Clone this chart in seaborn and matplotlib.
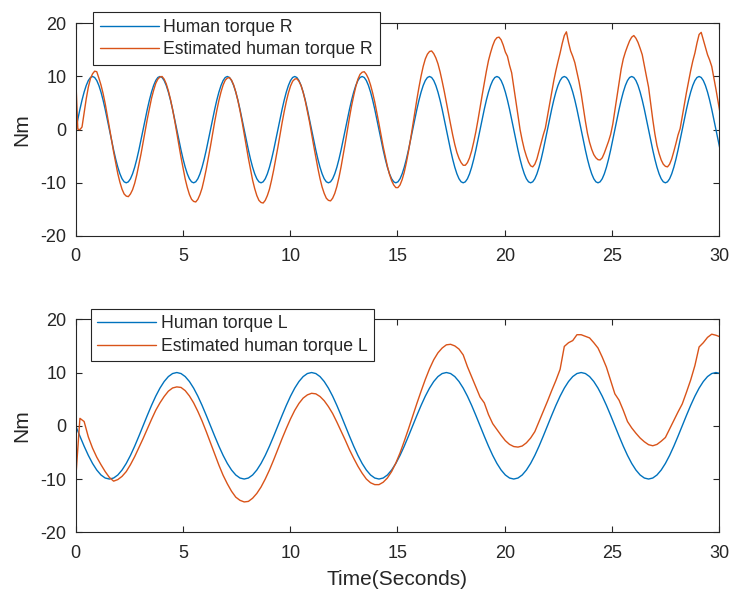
import numpy as np
import matplotlib
matplotlib.use("Agg")
import matplotlib.pyplot as plt
import seaborn as sns

# curves: R plot every pi/32 s, L plot every pi/16 s
step_r = np.pi / 32
step_l = np.pi / 16

human_r = [
    0, 1.95, 3.83, 5.56, 7.07, 8.31, 9.24, 9.81, 10, 9.81, 9.24, 8.31, 7.07, 5.56, 3.83, 1.95,
    0, -1.95, -3.83, -5.56, -7.07, -8.31, -9.24, -9.81, -10, -9.81, -9.24, -8.31, -7.07, -5.56, -3.83, -1.95,
    0, 1.95, 3.83, 5.56, 7.07, 8.31, 9.24, 9.81, 10, 9.81, 9.24, 8.31, 7.07, 5.56, 3.83, 1.95,
    0, -1.95, -3.83, -5.56, -7.07, -8.31, -9.24, -9.81, -10, -9.81, -9.24, -8.31, -7.07, -5.56, -3.83, -1.95,
    0, 1.95, 3.83, 5.56, 7.07, 8.31, 9.24, 9.81, 10, 9.81, 9.24, 8.31, 7.07, 5.56, 3.83, 1.95,
    0, -1.95, -3.83, -5.56, -7.07, -8.31, -9.24, -9.81, -10, -9.81, -9.24, -8.31, -7.07, -5.56, -3.83, -1.95,
    0, 1.95, 3.83, 5.56, 7.07, 8.31, 9.24, 9.81, 10, 9.81, 9.24, 8.31, 7.07, 5.56, 3.83, 1.95,
    0, -1.95, -3.83, -5.56, -7.07, -8.31, -9.24, -9.81, -10, -9.81, -9.24, -8.31, -7.07, -5.56, -3.83, -1.95,
    0, 1.95, 3.83, 5.56, 7.07, 8.31, 9.24, 9.81, 10, 9.81, 9.24, 8.31, 7.07, 5.56, 3.83, 1.95,
    0, -1.95, -3.83, -5.56, -7.07, -8.31, -9.24, -9.81, -10, -9.81, -9.24, -8.31, -7.07, -5.56, -3.83, -1.95,
    0, 1.95, 3.83, 5.56, 7.07, 8.31, 9.24, 9.81, 10, 9.81, 9.24, 8.31, 7.07, 5.56, 3.83, 1.95,
    0, -1.95, -3.83, -5.56, -7.07, -8.31, -9.24, -9.81, -10, -9.81, -9.24, -8.31, -7.07, -5.56, -3.83, -1.95,
    0, 1.95, 3.83, 5.56, 7.07, 8.31, 9.24, 9.81, 10, 9.81, 9.24, 8.31, 7.07, 5.56, 3.83, 1.95,
    0, -1.95, -3.83, -5.56, -7.07, -8.31, -9.24, -9.81, -10, -9.81, -9.24, -8.31, -7.07, -5.56, -3.83, -1.95,
    0, 1.95, 3.83, 5.56, 7.07, 8.31, 9.24, 9.81, 10, 9.81, 9.24, 8.31, 7.07, 5.56, 3.83, 1.95,
    0, -1.95, -3.83, -5.56, -7.07, -8.31, -9.24, -9.81, -10, -9.81, -9.24, -8.31, -7.07, -5.56, -3.83, -1.95,
    0, 1.95, 3.83, 5.56, 7.07, 8.31, 9.24, 9.81, 10, 9.81, 9.24, 8.31, 7.07, 5.56, 3.83, 1.95,
    0, -1.95, -3.83, -5.56, -7.07, -8.31, -9.24, -9.81, -10, -9.81, -9.24, -8.31, -7.07, -5.56, -3.83, -1.95,
    0, 1.95, 3.83, 5.56, 7.07, 8.31, 9.24, 9.81, 10, 9.81, 9.24, 8.31, 7.07, 5.56, 3.83, 1.95,
    0, -1.95, -3.83,
]
estimated_r = [
    10.0, 0.1, 0.0, 0.5, 3.2, 5.8, 8.0, 9.6, 10.5, 11.0, 10.9, 9.7, 8.4, 6.8, 4.9, 2.7,
    0.4, -1.9, -4.2, -6.3, -8.3, -9.9, -11.2, -12.1, -12.5, -12.6, -12.1, -11.3, -10.1, -8.5, -6.6, -4.6,
    -2.4, -0.2, 2.0, 4.0, 5.9, 7.4, 8.7, 9.5, 9.9, 10.0, 9.5, 8.6, 7.3, 5.7, 3.8, 1.7,
    -0.6, -2.9, -5.2, -7.3, -9.3, -10.9, -12.2, -13.1, -13.5, -13.6, -13.1, -12.2, -11.0, -9.3, -7.4, -5.3,
    -3.1, -0.8, 1.5, 3.6, 5.5, 7.1, 8.4, 9.3, 9.7, 9.8, 9.3, 8.4, 7.1, 5.5, 3.6, 1.5,
    -0.8, -3.1, -5.4, -7.5, -9.5, -11.1, -12.4, -13.3, -13.7, -13.8, -13.3, -12.4, -11.2, -9.5, -7.6, -5.5,
    -3.3, -1.0, 1.3, 3.4, 5.3, 6.9, 8.2, 9.1, 9.5, 9.6, 9.1, 8.3, 7.0, 5.4, 3.5, 1.5,
    -0.8, -3.0, -5.2, -7.3, -9.2, -10.8, -12.0, -12.9, -13.3, -13.4, -12.9, -12.0, -10.7, -9.0, -7.0, -4.8,
    -2.5, -0.1, 2.3, 4.5, 6.4, 8.1, 9.5, 10.4, 10.8, 10.9, 10.4, 9.6, 8.4, 6.9, 5.2, 3.2,
    1.1, -1.1, -3.2, -5.1, -6.9, -8.4, -9.6, -10.4, -10.9, -10.9, -10.4, -9.4, -8.0, -6.2, -4.1, -1.8,
    0.7, 3.2, 5.7, 8.0, 10.1, 11.9, 13.3, 14.2, 14.7, 14.8, 14.3, 13.5, 12.4, 10.9, 9.1, 7.2,
    5.1, 3.0, 1.0, -1.0, -2.8, -4.3, -5.4, -6.2, -6.7, -6.7, -6.2, -5.3, -4.0, -2.3, -0.4, 1.8,
    4.2, 6.5, 8.8, 11.0, 13.0, 14.5, 15.8, 16.8, 17.3, 17.4, 16.9, 15.9, 14.6, 13.8, 12.1, 10.7,
    8.0, 5.3, 2.5, 0.0, -2.0, -3.7, -5.0, -6.1, -6.8, -7.0, -6.5, -5.5, -4.0, -2.5, -1.0, 0.3,
    2.5, 4.8, 7.0, 9.2, 11.1, 12.8, 14.4, 16.2, 17.7, 18.4, 16.4, 14.8, 13.8, 12.6, 10.8, 9.0,
    6.8, 4.2, 1.6, -0.7, -2.4, -3.7, -4.7, -5.3, -5.65, -5.7, -5.3, -4.4, -3.3, -2.2, -0.9, 1.0,
    3.6, 6.3, 8.9, 11.4, 13.3, 14.6, 15.7, 16.7, 17.4, 17.7, 17.2, 16.4, 15.3, 14.1, 12.0, 10.0,
    8.0, 5.0, 1.9, -0.8, -3.0, -4.5, -5.7, -6.5, -6.9, -7.0, -6.5, -5.5, -4.1, -2.6, -1.0, 0.2,
    2.5, 4.7, 7.0, 9.1, 11.1, 12.9, 14.4, 16.3, 17.9, 18.3, 16.9, 15.5, 14.1, 13.1, 11.9, 9.8,
    7.6, 5.3, 3.0,
]

human_l = [
    0, -1.95, -3.83, -5.56, -7.07, -8.31, -9.24, -9.81, -10, -9.81, -9.24, -8.31, -7.07, -5.56, -3.83, -1.95,
    0, 1.95, 3.83, 5.56, 7.07, 8.31, 9.24, 9.81, 10, 9.81, 9.24, 8.31, 7.07, 5.56, 3.83, 1.95,
    0, -1.95, -3.83, -5.56, -7.07, -8.31, -9.24, -9.81, -10, -9.81, -9.24, -8.31, -7.07, -5.56, -3.83, -1.95,
    0, 1.95, 3.83, 5.56, 7.07, 8.31, 9.24, 9.81, 10, 9.81, 9.24, 8.31, 7.07, 5.56, 3.83, 1.95,
    0, -1.95, -3.83, -5.56, -7.07, -8.31, -9.24, -9.81, -10, -9.81, -9.24, -8.31, -7.07, -5.56, -3.83, -1.95,
    0, 1.95, 3.83, 5.56, 7.07, 8.31, 9.24, 9.81, 10, 9.81, 9.24, 8.31, 7.07, 5.56, 3.83, 1.95,
    0, -1.95, -3.83, -5.56, -7.07, -8.31, -9.24, -9.81, -10, -9.81, -9.24, -8.31, -7.07, -5.56, -3.83, -1.95,
    0, 1.95, 3.83, 5.56, 7.07, 8.31, 9.24, 9.81, 10, 9.81, 9.24, 8.31, 7.07, 5.56, 3.83, 1.95,
    0, -1.95, -3.83, -5.56, -7.07, -8.31, -9.24, -9.81, -10, -9.81, -9.24, -8.31, -7.07, -5.56, -3.83, -1.95,
    0, 1.95, 3.83, 5.56, 7.07, 8.31, 9.24, 9.81, 10, 9.81,
]
estimated_l = [
    -10.0, 1.4, 0.8, -2.1, -4.2, -5.9, -7.3, -8.6, -9.7, -10.4, -10.1, -9.5, -8.6, -7.3, -5.8, -4.1,
    -2.4, -0.6, 1.2, 2.9, 4.3, 5.5, 6.5, 7.1, 7.3, 7.2, 6.6, 5.6, 4.3, 2.7, 0.9, -1.1,
    -3.2, -5.3, -7.4, -9.3, -10.9, -12.3, -13.4, -14.0, -14.3, -14.2, -13.6, -12.7, -11.5, -10.0, -8.3, -6.4,
    -4.4, -2.4, -0.5, 1.3, 2.9, 4.2, 5.2, 5.8, 6.1, 6.0, 5.5, 4.7, 3.6, 2.3, 0.7, -1.0,
    -2.7, -4.5, -6.1, -7.6, -8.9, -10.0, -10.7, -11.05, -11.05, -10.6, -9.8, -8.6, -7.0, -5.1, -2.9, -0.6,
    1.8, 4.2, 6.5, 8.7, 10.7, 12.4, 13.7, 14.6, 15.2, 15.3, 15.0, 14.4, 13.3, 11.1, 9.2, 7.3,
    5.4, 4.3, 2.1, 0.4, -0.7, -1.8, -2.8, -3.5, -3.9, -4.0, -3.8, -3.2, -2.3, -1.1, 0.8, 2.7,
    4.6, 6.6, 8.5, 10.6, 14.9, 15.6, 16.0, 17.1, 17.1, 16.8, 16.5, 15.6, 14.6, 12.9, 11.0, 8.5,
    6.0, 4.8, 2.9, 0.8, -0.4, -1.4, -2.3, -3.0, -3.55, -3.75, -3.5, -2.9, -2.2, -0.6, 1.0, 2.6,
    4.1, 6.3, 8.6, 11.3, 14.8, 15.6, 16.6, 17.2, 17.0, 16.7,
]

labels_r = ["Human torque R", "Estimated human torque R"]
labels_l = ["Human torque L", "Estimated human torque L"]
x_ticks = [0, 5, 10, 15, 20, 25, 30]
y_ticks = [-20, -10, 0, 10, 20]

blue = "#0072BD"
orange = "#D95319"
ink = "#262626"

sns.set_theme(style="ticks")
plt.rcParams["font.family"] = ["Liberation Sans", "DejaVu Sans"]
plt.rcParams.update({
    "axes.unicode_minus": False,
    "xtick.direction": "in", "ytick.direction": "in",
    "xtick.top": True, "ytick.right": True,
    "xtick.color": ink, "ytick.color": ink,
    "axes.edgecolor": ink, "axes.linewidth": 0.8,
})

fig = plt.figure(figsize=(7.3, 5.95), dpi=100)
ax1 = fig.add_axes([0.1037, 0.6034, 0.8816, 0.3574])
ax2 = fig.add_axes([0.1037, 0.1054, 0.8816, 0.358])


def draw(ax, human, est, step, names, anchor):
    t = np.arange(len(human)) * step
    sns.lineplot(x=t, y=human, ax=ax, color=blue, linewidth=1.0, label=names[0])
    sns.lineplot(x=t, y=est, ax=ax, color=orange, linewidth=1.0, label=names[1])
    ax.set_xlim(0, 30)
    ax.set_ylim(-20, 20)
    ax.set_xticks(x_ticks)
    ax.set_yticks(y_ticks)
    ax.tick_params(axis="both", length=4.5, width=0.8, labelsize=13)
    ax.tick_params(axis="x", pad=9)
    ax.tick_params(axis="y", pad=6.5)
    ax.set_ylabel("Nm", fontsize=15, color=ink)
    ax.yaxis.set_label_coords(-0.0687, 0.5)
    ax.set_xlabel("")
    leg = ax.legend(loc="upper left", bbox_to_anchor=anchor, fontsize=12.7,
                    frameon=True, fancybox=False, framealpha=1,
                    edgecolor=ink, handlelength=3.33, handletextpad=0.28,
                    borderpad=0.37, labelspacing=0.3, borderaxespad=0)
    leg.get_frame().set_linewidth(0.8)


draw(ax1, human_r, estimated_r, step_r, labels_r, (0.0273, 1.0517))
draw(ax2, human_l, estimated_l, step_l, labels_l, (0.0233, 1.0484))

ax2.set_xlabel("Time(Seconds)", fontsize=15, color=ink)
ax2.xaxis.set_label_coords(0.5, -0.176)

fig.savefig("out.png", dpi=100)
